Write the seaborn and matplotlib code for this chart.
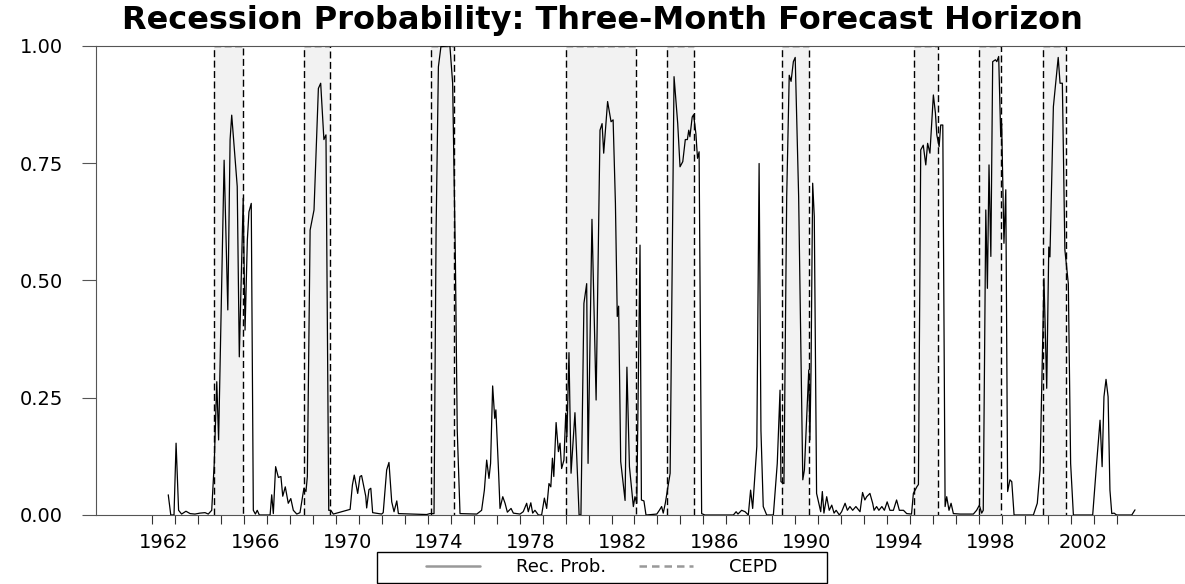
import numpy as np
import pandas as pd
import seaborn as sns
import matplotlib.pyplot as plt
from matplotlib.lines import Line2D
from matplotlib.patches import Rectangle

# recession probability (decimal year, probability)
dates = [1962.72, 1962.83, 1962.97, 1963.06, 1963.17, 1963.30, 1963.49, 1963.67, 1963.88, 1964.10,
         1964.32, 1964.46, 1964.61, 1964.72, 1964.83, 1964.91, 1965.15, 1965.31, 1965.41, 1965.48,
         1965.72, 1965.81, 1965.98, 1966.06, 1966.16, 1966.23, 1966.33, 1966.42, 1966.51, 1966.59,
         1966.68, 1967.15, 1967.22, 1967.29, 1967.39, 1967.51, 1967.62, 1967.70, 1967.81, 1967.94,
         1968.05, 1968.16, 1968.31, 1968.45, 1968.62, 1968.71, 1968.77, 1968.89, 1969.06, 1969.25,
         1969.35, 1969.49, 1969.58, 1969.70, 1969.79, 1969.90, 1970.48, 1970.63, 1970.73, 1970.81,
         1970.96, 1971.06, 1971.13, 1971.31, 1971.35, 1971.45, 1971.53, 1971.61, 1972.00, 1972.07,
         1972.22, 1972.32, 1972.44, 1972.54, 1972.66, 1972.73, 1973.96, 1974.10, 1974.28, 1974.37,
         1974.47, 1974.58, 1974.97, 1975.09, 1975.21, 1975.29, 1975.41, 1976.14, 1976.35, 1976.47,
         1976.57, 1976.67, 1976.74, 1976.83, 1976.92, 1976.97, 1977.09, 1977.15, 1977.27, 1977.37,
         1977.47, 1977.63, 1977.73, 1978.02, 1978.16, 1978.31, 1978.38, 1978.49, 1978.57, 1978.67,
         1978.82, 1978.96, 1979.08, 1979.18, 1979.28, 1979.36, 1979.43, 1979.49, 1979.59, 1979.69,
         1979.76, 1979.83, 1979.93, 1980.01, 1980.06, 1980.15, 1980.24, 1980.41, 1980.59, 1980.67,
         1980.80, 1980.92, 1980.98, 1981.15, 1981.33, 1981.50, 1981.59, 1981.66, 1981.83, 1981.98,
         1982.07, 1982.17, 1982.25, 1982.31, 1982.40, 1982.59, 1982.67, 1982.78, 1982.95, 1983.02,
         1983.10, 1983.24, 1983.30, 1983.41, 1983.50, 1983.97, 1984.08, 1984.18, 1984.25, 1984.34,
         1984.55, 1984.72, 1984.88, 1984.98, 1985.10, 1985.21, 1985.30, 1985.36, 1985.41, 1985.51,
         1985.57, 1985.67, 1985.74, 1985.81, 1985.92, 1986.06, 1987.30, 1987.42, 1987.50, 1987.66,
         1987.81, 1987.95, 1988.05, 1988.14, 1988.32, 1988.42, 1988.50, 1988.60, 1988.75, 1989.04,
         1989.21, 1989.33, 1989.37, 1989.50, 1989.62, 1989.73, 1989.81, 1989.91, 1989.99, 1990.14,
         1990.32, 1990.39, 1990.58, 1990.63, 1990.68, 1990.75, 1990.82, 1990.92, 1991.10, 1991.17,
         1991.24, 1991.36, 1991.47, 1991.58, 1991.68, 1991.77, 1991.91, 1992.01, 1992.16, 1992.26,
         1992.37, 1992.49, 1992.63, 1992.81, 1992.92, 1993.02, 1993.10, 1993.24, 1993.36, 1993.42,
         1993.53, 1993.63, 1993.76, 1993.87, 1993.99, 1994.11, 1994.26, 1994.40, 1994.52, 1994.70,
         1994.84, 1995.05, 1995.13, 1995.28, 1995.35, 1995.45, 1995.56, 1995.67, 1995.75, 1995.85,
         1996.00, 1996.09, 1996.15, 1996.25, 1996.32, 1996.41, 1996.51, 1996.58, 1996.68, 1996.77,
         1996.87, 1997.16, 1997.74, 1997.88, 1998.00, 1998.10, 1998.17, 1998.28, 1998.35, 1998.42,
         1998.50, 1998.58, 1998.70, 1998.76, 1998.84, 1998.93, 1998.97, 1999.07, 1999.15, 1999.23,
         1999.33, 1999.41, 1999.51, 2000.35, 2000.52, 2000.64, 2000.81, 2000.93, 2001.02, 2001.07,
         2001.22, 2001.43, 2001.51, 2001.61, 2001.72, 2001.87, 2001.97, 2002.09, 2002.93, 2003.10,
         2003.25, 2003.34, 2003.42, 2003.51, 2003.60, 2003.68, 2003.76, 2003.86, 2003.97, 2004.63,
         2004.77]
prob = [0.043, 0.0, 0.0, 0.153, 0.01, 0.002, 0.008, 0.003, 0.002, 0.004,
        0.005, 0.002, 0.01, 0.11, 0.284, 0.16, 0.756, 0.437, 0.80, 0.852,
        0.70, 0.337, 0.675, 0.394, 0.586, 0.646, 0.664, 0.01, 0.002, 0.01,
        0.0, 0.0, 0.043, 0.003, 0.103, 0.08, 0.082, 0.04, 0.06, 0.025,
        0.035, 0.01, 0.002, 0.005, 0.057, 0.05, 0.082, 0.607, 0.65, 0.909,
        0.92, 0.80, 0.81, 0.01, 0.01, 0.002, 0.01, 0.012, 0.064, 0.085,
        0.046, 0.082, 0.084, 0.04, 0.015, 0.054, 0.057, 0.005, 0.002, 0.005,
        0.096, 0.112, 0.028, 0.007, 0.030, 0.003, 0.001, 0.003, 0.003, 0.607,
        0.955, 0.998, 1.0, 0.92, 0.54, 0.18, 0.003, 0.002, 0.01, 0.053,
        0.117, 0.078, 0.11, 0.275, 0.206, 0.224, 0.089, 0.014, 0.039, 0.025,
        0.006, 0.014, 0.004, 0.002, 0.007, 0.025, 0.007, 0.026, 0.004, 0.01,
        0.0, 0.0, 0.036, 0.014, 0.067, 0.06, 0.121, 0.082, 0.197, 0.135,
        0.153, 0.099, 0.117, 0.217, 0.167, 0.346, 0.089, 0.218, 0.0, 0.0,
        0.451, 0.493, 0.11, 0.63, 0.245, 0.82, 0.834, 0.771, 0.881, 0.838,
        0.842, 0.664, 0.423, 0.445, 0.114, 0.031, 0.315, 0.103, 0.018, 0.039,
        0.025, 0.575, 0.032, 0.03, 0.0, 0.002, 0.01, 0.018, 0.004, 0.025,
        0.089, 0.934, 0.834, 0.742, 0.753, 0.80, 0.80, 0.82, 0.806, 0.848,
        0.853, 0.813, 0.76, 0.774, 0.003, 0.0, 0.0, 0.007, 0.002, 0.01,
        0.007, 0.0, 0.053, 0.014, 0.146, 0.749, 0.18, 0.018, 0.0, 0.0,
        0.11, 0.266, 0.071, 0.067, 0.678, 0.937, 0.924, 0.966, 0.975, 0.678,
        0.075, 0.096, 0.309, 0.16, 0.316, 0.707, 0.636, 0.046, 0.007, 0.05,
        0.004, 0.039, 0.01, 0.021, 0.004, 0.01, 0.0, 0.007, 0.025, 0.01,
        0.018, 0.01, 0.018, 0.007, 0.048, 0.032, 0.039, 0.046, 0.025, 0.01,
        0.018, 0.01, 0.018, 0.01, 0.028, 0.01, 0.01, 0.032, 0.01, 0.01,
        0.003, 0.002, 0.046, 0.06, 0.065, 0.778, 0.788, 0.746, 0.792, 0.771,
        0.895, 0.856, 0.81, 0.785, 0.831, 0.831, 0.018, 0.039, 0.01, 0.025,
        0.003, 0.002, 0.002, 0.01, 0.021, 0.004, 0.01, 0.65, 0.483, 0.746,
        0.551, 0.966, 0.970, 0.966, 0.977, 0.806, 0.834, 0.579, 0.693, 0.05,
        0.075, 0.071, 0.0, 0.0, 0.025, 0.096, 0.504, 0.27, 0.571, 0.55,
        0.87, 0.975, 0.92, 0.92, 0.565, 0.493, 0.11, 0.0, 0.0, 0.11,
        0.202, 0.103, 0.252, 0.289, 0.252, 0.053, 0.003, 0.004, 0.0, 0.0,
        0.011]

# CEPD business cycle dating: peaks and troughs (decimal year)
peaks = [1964.72, 1968.62, 1974.14, 1980.00, 1984.40, 1989.40, 1995.16, 1998.00, 2000.76]
troughs = [1965.98, 1969.76, 1975.15, 1983.07, 1985.59, 1990.60, 1996.19, 1998.93, 2001.77]

tick_years = list(range(1962, 2005))
label_years = list(range(1962, 2003, 4))
ytick_vals = [0.0, 0.25, 0.5, 0.75, 1.0]

sns.set_style("ticks")
plt.rcParams['font.family'] = ['DejaVu Sans']
plt.rcParams['text.color'] = 'black'
plt.rcParams['xtick.labelcolor'] = 'black'
plt.rcParams['ytick.labelcolor'] = 'black'

W, H = 1185, 584
fig = plt.figure(figsize=(W / 100, H / 100), dpi=100)
ax = fig.add_axes([96 / W, 1 - 515 / H, 1 - 96 / W, (515 - 45.7) / H])

for p, t in zip(peaks, troughs):
    ax.axvspan(p, t, color='#f2f2f2', lw=0, zorder=0)
    # CEPD indicator: dashed 0/1 step for each recession
    ax.plot([p, p, t, t], [0, 1, 1, 0], color='black', lw=1.0, ls=(0, (5, 2.5)), zorder=2)

df = pd.DataFrame({'date': dates, 'prob': prob})
sns.lineplot(data=df, x='date', y='prob', color='black', lw=0.9,
             estimator=None, sort=False, ax=ax, zorder=3)

ax.set_xlim(1959.577, 2006.945)
ax.set_ylim(0, 1)
ax.set_xlabel('')
ax.set_ylabel('')

ax.set_xticks(tick_years)
ax.set_xticklabels([])
ax.set_xticks([y + 0.5 for y in label_years], minor=True)
ax.set_xticklabels([str(y) for y in label_years], minor=True)
ax.tick_params(axis='x', which='major', direction='out', length=6.5, width=0.8, color='#333333')
ax.tick_params(axis='x', which='minor', length=0, pad=13, labelsize=14)

ax.set_yticks(ytick_vals)
ax.set_yticklabels(['{0:.2f}'.format(v) for v in ytick_vals])
ax.tick_params(axis='y', direction='out', length=10, width=0.8, pad=14, labelsize=14, color='#555555')

ax.spines['right'].set_visible(False)
for s in ['left', 'top', 'bottom']:
    ax.spines[s].set_color('#555555')
    ax.spines[s].set_linewidth(0.8)

fig.text(602 / W, 1 - 21 / H, 'Recession Probability: Three-Month Forecast Horizon',
         ha='center', va='center', fontsize=23, fontweight='bold', color='black')

# legend box below the axis
fig.patches.append(Rectangle((377 / W, 1 - 583 / H), 450 / W, 31 / H, fill=False,
                             edgecolor='black', lw=1.0, transform=fig.transFigure))
handles = [Line2D([], [], color='#999999', lw=1.8),
           Line2D([], [], color='#999999', lw=1.8, ls=(0, (3, 2)))]
fig.legend(handles, ['Rec. Prob.', 'CEPD'], loc='center', bbox_to_anchor=(602 / W, 1 - 567.5 / H),
           ncol=2, frameon=False, fontsize=13, handlelength=3.0, handletextpad=2.0,
           columnspacing=1.8)

fig.savefig('out.png', dpi=100)
